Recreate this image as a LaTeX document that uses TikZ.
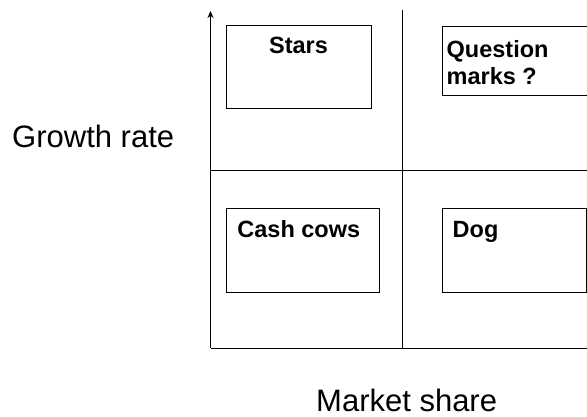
\documentclass[tikz,border=0pt]{standalone}
\usepackage{fontspec}
\setmainfont{Liberation Sans}
\usetikzlibrary{arrows.meta,positioning}

\begin{document}
\begin{tikzpicture}[
  x=1pt, y=-1pt,
  quad/.style={draw, line width=1pt, minimum width=145pt, minimum height=83pt, inner sep=0pt},
  tag/.style={font=\fontsize{23.5}{26.7}\selectfont\bfseries, inner sep=0pt, align=left},
  axis/.style={line width=1pt},
  arr/.style={axis, -{Stealth[length=7pt,width=6pt]}},
  axislabel/.style={font=\fontsize{31}{36}\selectfont, inner sep=0pt, anchor=base west}
]
\useasboundingbox (0,0) rectangle (587,417);

% axes and quadrant lines
\coordinate (origin) at (210.5,348);
\coordinate (ytip) at (210.5,11);
\coordinate (xend) at (590,348);
\coordinate (vtop) at (402.5,10);
\coordinate (vbot) at (402.5,348);
\coordinate (hleft) at (210.5,171);
\coordinate (hright) at (590,171);
\draw[arr] (origin) -- (ytip);
\draw[axis] (origin) -- (xend);
\draw[axis] (vtop) -- (vbot);
\draw[axis] (hleft) -- (hright);

% quadrants
\node[quad, label={[tag, anchor=base, yshift=-28.5pt]north:Stars}] (stars) at (298.5,67.5) {};
\node[quad, minimum width=150pt, minimum height=69pt,
  label={[tag, anchor=north west, xshift=5pt, yshift=-14pt]north west:{Question\\marks ?}}] (question) at (517,61.5) {};
\node[quad, minimum width=153pt, label={[tag, anchor=base west, xshift=11.7pt, yshift=-28.7pt]north west:Cash cows}] (cows) at (302.5,250.5) {};
\node[quad, minimum width=144pt, label={[tag, anchor=base west, xshift=11pt, yshift=-28.7pt]north west:Dog}] (dog) at (514,250.5) {};

\node[axislabel] (growth) at (12,147.3) {Growth rate};
\node[axislabel] (share) at (316,411) {Market share};
\end{tikzpicture}
\end{document}
